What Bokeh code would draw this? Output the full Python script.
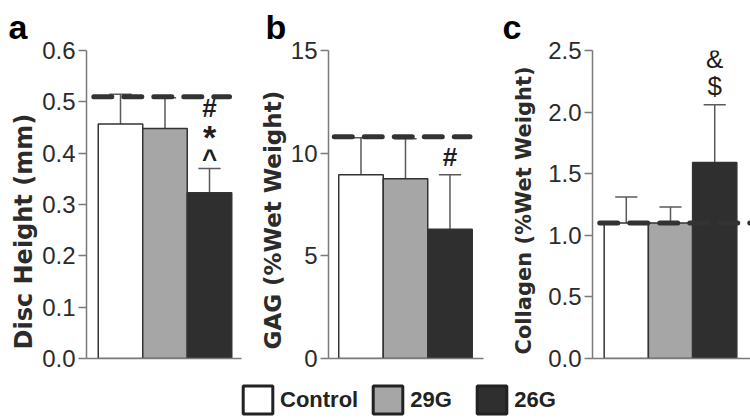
from bokeh.plotting import figure
from bokeh.models import (Range1d, FixedTicker, NumeralTickFormatter, ColumnDataSource,
                          Legend, LegendItem, Title)
from bokeh.layouts import row, column
from bokeh.core.properties import value
from bokeh.embed import file_html
from bokeh.resources import INLINE

# ---------------- data ----------------
groups = ["Control", "29G", "26G"]
bar_colors = ["#ffffff", "#a6a6a6", "#2f2f2f"]

disc_mean = [0.457, 0.448, 0.323]
disc_err = [0.058, 0.060, 0.047]
disc_ref = 0.51
disc_ticks = [0.0, 0.1, 0.2, 0.3, 0.4, 0.5, 0.6]
disc_marks = ["^", "*", "#"]

gag_mean = [8.95, 8.75, 6.3]
gag_err = [1.8, 1.95, 2.65]
gag_ref = 10.8
gag_ticks = [0, 5, 10, 15]
gag_marks = ["#"]

col_mean = [1.10, 1.10, 1.59]
col_err = [0.21, 0.13, 0.47]
col_ref = 1.10
col_ticks = [0.0, 0.5, 1.0, 1.5, 2.0, 2.5]
col_marks = ["$", "&"]

FONT = "Liberation Sans"
LABEL_FONT = "DejaVu Sans"
AXIS_GRAY = "#7a7a7a"
TXT = "#2b2b2b"
H = 372
UNIT = 44.5  # px per bar slot


def panel(mean, err, ref, ticks, fmt, ylabel, label_size, label_standoff, label_shift,
          letter, letter_dx, marks, mark_dy, mark_size, mark_style,
          width, left, right, x0, dash_x1):
    frame_w = width - left - right
    x1 = x0 + frame_w / UNIT
    p = figure(width=width, height=H, x_range=Range1d(x0, x1),
               y_range=Range1d(ticks[0], ticks[-1]),
               output_backend="svg", toolbar_location=None,
               min_border_left=left, min_border_right=right,
               min_border_top=48, min_border_bottom=14)
    p.outline_line_color = None
    p.xgrid.visible = False
    p.ygrid.visible = False
    p.background_fill_color = "white"
    p.border_fill_color = "white"

    xs = list(range(len(groups)))
    up = [m + e for m, e in zip(mean, err)]
    src = ColumnDataSource(dict(x=xs, top=mean, color=bar_colors, up=up))
    # error bars (upper only)
    p.segment(x0="x", y0="top", x1="x", y1="up", source=src,
              line_color="#5a5a5a", line_width=1.5)
    p.vbar(x="x", top="top", width=1.0, source=src, fill_color="color",
           line_color="#333333", line_width=1.5)
    p.segment(x0=[x - 0.25 for x in xs], x1=[x + 0.25 for x in xs],
              y0=up, y1=up, line_color="#5a5a5a", line_width=1.5)
    # reference dashed line
    p.segment(x0=[-0.6], x1=[dash_x1], y0=[ref], y1=[ref],
              line_color="#333333", line_width=5, line_dash="18 12",
              line_cap="round")
    # significance marks above 26G
    for m, dy, fs in zip(marks, mark_dy, mark_size):
        p.text(x=[2], y=[up[2]], text=[m], y_offset=dy,
               text_align="center", text_baseline="middle",
               text_font=value(FONT), text_font_size=fs,
               text_font_style=mark_style, text_color="#1e1e1e")

    # axes
    ya = p.yaxis[0]
    ya.ticker = FixedTicker(ticks=ticks)
    ya.formatter = NumeralTickFormatter(format=fmt)
    ya.minor_tick_line_color = None
    ya.major_tick_in = 0
    ya.major_tick_out = 8
    ya.major_tick_line_color = AXIS_GRAY
    ya.major_tick_line_width = 1.5
    ya.axis_line_color = AXIS_GRAY
    ya.axis_line_width = 1.5
    ya.major_label_text_font = FONT
    ya.major_label_text_font_size = "24px"
    ya.major_label_text_color = TXT
    ya.major_label_standoff = 3

    xa = p.xaxis[0]
    xa.ticker = FixedTicker(ticks=[])
    xa.major_label_text_font_size = "0px"
    xa.major_tick_line_color = None
    xa.minor_tick_line_color = None
    xa.axis_line_color = AXIS_GRAY
    xa.axis_line_width = 1.5

    # y-axis title, outside the tick labels (starts near the bottom of the frame)
    p.add_layout(Title(text=ylabel, align="left", offset=label_shift,
                       standoff=label_standoff, text_font=LABEL_FONT,
                       text_font_size=label_size, text_font_style="bold",
                       text_color=TXT), "left")

    p.title = Title(text=letter, align="left", offset=letter_dx, standoff=10,
                    text_font=FONT, text_font_size="34px", text_font_style="bold",
                    text_color="black")
    return p


pa = panel(disc_mean, disc_err, disc_ref, disc_ticks, "0.0", "Disc Height (mm)", "24px", 4, 9,
           "a", -78, disc_marks, [-10, -32, -61], ["26px", "34px", "26px"], "bold",
           250, 86, 9, -0.764, 2.45)
pb = panel(gag_mean, gag_err, gag_ref, gag_ticks, "0", "GAG (%Wet Weight)", "23px", 3, 9,
           "b", -63, gag_marks, [-18], ["26px"], "bold",
           250, 78, 17, -0.73, 2.45)
pc = panel(col_mean, col_err, col_ref, col_ticks, "0.0", "Collagen (%Wet Weight)", "21px", 19, 4,
           "c", -90, col_marks, [-19, -46], ["26px", "26px"], "normal",
           250, 91, 0, -0.764, 2.9)

# legend strip
lg = figure(width=750, height=48, x_range=Range1d(0, 1), y_range=Range1d(0, 1),
            output_backend="svg", toolbar_location=None, min_border=0,
            x_axis_location=None, y_axis_location=None)
lg.outline_line_color = None
lg.xgrid.visible = False
lg.ygrid.visible = False
lsrc = ColumnDataSource(dict(x=[0, 1, 2], top=[1, 1, 1], color=bar_colors))
lr = lg.vbar(x="x", top="top", width=0.5, source=lsrc, fill_color="color",
             line_color="#222222", line_width=3, visible=False)
items = [LegendItem(label=g, renderers=[lr], index=i) for i, g in enumerate(groups)]
leg = Legend(items=items, location=(239, 3), orientation="horizontal",
             glyph_width=37, glyph_height=35, label_standoff=4, spacing=11,
             label_width=52, padding=0, margin=0, border_line_color=None,
             background_fill_alpha=0, label_text_font=FONT,
             label_text_font_style="bold", label_text_font_size="22px",
             label_text_color="#222222")
lg.add_layout(leg)

layout = column(row(pa, pb, pc, spacing=0), lg, spacing=0)

open("out.html", "w").write(file_html(layout, INLINE))
